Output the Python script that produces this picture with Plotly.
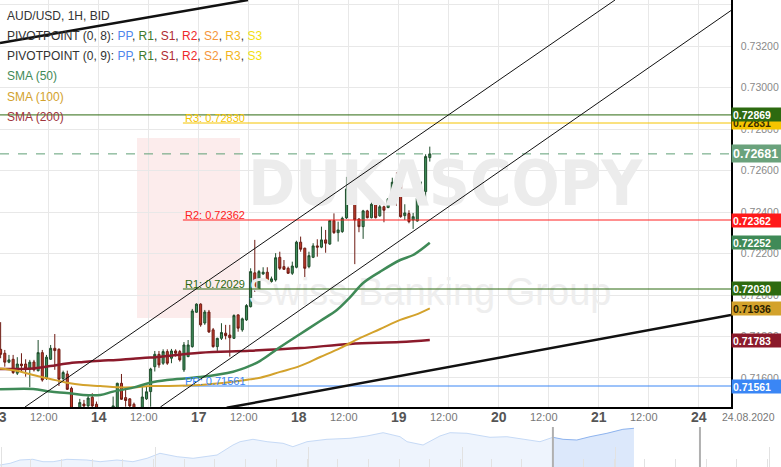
import numpy as np
import pandas as pd
import plotly.graph_objects as go

# ---------------- data ----------------
# hourly AUD/USD bars, 2020-08-13 00:00 .. 2020-08-19 07:00 (weekdays only)
opens = [0.71738, 0.71719, 0.71676, 0.71690, 0.71623, 0.71667, 0.71667, 0.71642, 0.71677, 0.71635,
         0.71722, 0.71598, 0.71690, 0.71743, 0.71738, 0.71597, 0.71619, 0.71550, 0.71446, 0.71450,
         0.71474, 0.71465, 0.71507, 0.71473, 0.71446, 0.71407, 0.71422, 0.71436, 0.71446, 0.71574,
         0.71505, 0.71499, 0.71473, 0.71446, 0.71441, 0.71499, 0.71534, 0.71654, 0.71714, 0.71671,
         0.71727, 0.71695, 0.71730, 0.71727, 0.71639, 0.71703, 0.71751, 0.71917, 0.71956, 0.71865,
         0.71918, 0.71832, 0.71751, 0.71791, 0.71816, 0.71807, 0.71791, 0.71904, 0.71832, 0.71880,
         0.71944, 0.72107, 0.72028, 0.72102, 0.72110, 0.72065, 0.72073, 0.72182, 0.72137, 0.72129,
         0.72105, 0.72134, 0.72255, 0.72226, 0.72137, 0.72182, 0.72237, 0.72231, 0.72266, 0.72246,
         0.72359, 0.72301, 0.72306, 0.72372, 0.72507, 0.72563, 0.72367, 0.72330, 0.72406, 0.72373,
         0.72438, 0.72382, 0.72426, 0.72422, 0.72459, 0.72544, 0.72544, 0.72383, 0.72393, 0.72362,
         0.72357, 0.72459, 0.72499, 0.72663]
highs = [0.71869, 0.71735, 0.71711, 0.71711, 0.71700, 0.71719, 0.71690, 0.71687, 0.71687, 0.71783,
         0.71735, 0.71711, 0.71759, 0.71812, 0.71743, 0.71635, 0.71635, 0.71558, 0.71450, 0.71499,
         0.71494, 0.71513, 0.71526, 0.71486, 0.71452, 0.71436, 0.71450, 0.71510, 0.71577, 0.71619,
         0.71555, 0.71502, 0.71481, 0.71452, 0.71566, 0.71561, 0.71649, 0.71730, 0.71730, 0.71738,
         0.71738, 0.71740, 0.71738, 0.71735, 0.71773, 0.71783, 0.71933, 0.71960, 0.71960, 0.71928,
         0.71928, 0.71841, 0.71794, 0.71864, 0.71856, 0.71856, 0.71907, 0.71907, 0.71891, 0.71956,
         0.72129, 0.72266, 0.72121, 0.72134, 0.72134, 0.72089, 0.72202, 0.72209, 0.72169, 0.72137,
         0.72161, 0.72262, 0.72282, 0.72228, 0.72209, 0.72250, 0.72269, 0.72330, 0.72314, 0.72362,
         0.72394, 0.72354, 0.72378, 0.72570, 0.72644, 0.72571, 0.72370, 0.72411, 0.72411, 0.72459,
         0.72443, 0.72443, 0.72431, 0.72467, 0.72566, 0.72592, 0.72592, 0.72438, 0.72409, 0.72396,
         0.72475, 0.72547, 0.72679, 0.72716]
lows = [0.71695, 0.71654, 0.71671, 0.71619, 0.71614, 0.71631, 0.71606, 0.71555, 0.71631, 0.71631,
        0.71582, 0.71590, 0.71687, 0.71639, 0.71561, 0.71590, 0.71542, 0.71431, 0.71417, 0.71436,
        0.71453, 0.71450, 0.71446, 0.71426, 0.71398, 0.71388, 0.71407, 0.71426, 0.71441, 0.71494,
        0.71461, 0.71453, 0.71436, 0.71422, 0.71431, 0.71494, 0.71461, 0.71631, 0.71649, 0.71663,
        0.71663, 0.71671, 0.71703, 0.71679, 0.71629, 0.71700, 0.71746, 0.71914, 0.71847, 0.71856,
        0.71817, 0.71746, 0.71730, 0.71783, 0.71786, 0.71703, 0.71788, 0.71823, 0.71823, 0.71875,
        0.71940, 0.72015, 0.72025, 0.72097, 0.72065, 0.72060, 0.72065, 0.72121, 0.72121, 0.72102,
        0.72097, 0.72129, 0.72209, 0.72086, 0.72129, 0.72178, 0.72185, 0.72226, 0.72204, 0.72242,
        0.72295, 0.72258, 0.72300, 0.72367, 0.72499, 0.72149, 0.72303, 0.72271, 0.72370, 0.72370,
        0.72370, 0.72378, 0.72351, 0.72419, 0.72454, 0.72431, 0.72373, 0.72362, 0.72346, 0.72319,
        0.72354, 0.72454, 0.72451, 0.72644]
closes = [0.71714, 0.71676, 0.71687, 0.71626, 0.71667, 0.71659, 0.71647, 0.71676, 0.71639, 0.71722,
          0.71590, 0.71700, 0.71743, 0.71732, 0.71594, 0.71626, 0.71545, 0.71446, 0.71426, 0.71481,
          0.71465, 0.71503, 0.71465, 0.71446, 0.71407, 0.71422, 0.71436, 0.71465, 0.71574, 0.71497,
          0.71491, 0.71465, 0.71446, 0.71441, 0.71508, 0.71533, 0.71643, 0.71714, 0.71663, 0.71727,
          0.71671, 0.71730, 0.71719, 0.71687, 0.71759, 0.71759, 0.71923, 0.71956, 0.71856, 0.71918,
          0.71822, 0.71751, 0.71791, 0.71819, 0.71804, 0.71794, 0.71901, 0.71840, 0.71885, 0.71949,
          0.72113, 0.72034, 0.72113, 0.72110, 0.72068, 0.72078, 0.72180, 0.72129, 0.72124, 0.72105,
          0.72140, 0.72255, 0.72221, 0.72129, 0.72190, 0.72237, 0.72231, 0.72266, 0.72250, 0.72359,
          0.72301, 0.72314, 0.72370, 0.72512, 0.72552, 0.72362, 0.72330, 0.72406, 0.72373, 0.72438,
          0.72373, 0.72426, 0.72409, 0.72464, 0.72544, 0.72531, 0.72378, 0.72396, 0.72354, 0.72378,
          0.72467, 0.72502, 0.72668, 0.72681]

# moving averages (trading hours since 13 Aug 00:00, value)
sma50_t = [0.35, 8.3, 12.4, 16.4, 20.3, 24.4, 27.5, 32.3, 36.4, 40.4, 48.4, 56.3, 60.3, 62.8, 67.6,
           72.4, 77.2, 81.2, 84.4, 87.5, 91.6, 96.4, 99.5, 103.5]
sma50_v = [0.71545, 0.71547, 0.71534, 0.71527, 0.71518, 0.71518, 0.71534, 0.71553, 0.71577, 0.71590,
           0.71604, 0.71630, 0.71658, 0.71682, 0.71749, 0.71812, 0.71875, 0.71928, 0.71990, 0.72058,
           0.72113, 0.72169, 0.72193, 0.72252]
sma100_t = [0.35, 4.4, 8.3, 12.4, 16.4, 20.3, 24.4, 28.4, 32.3, 36.4, 40.4, 48.4, 56.3, 60.3, 62.8,
            67.6, 72.4, 77.2, 82.0, 86.8, 91.6, 96.4, 100.0, 103.5]
sma100_v = [0.71646, 0.71635, 0.71614, 0.71595, 0.71577, 0.71566, 0.71561, 0.71555, 0.71555, 0.71561,
            0.71561, 0.71566, 0.71582, 0.71593, 0.71601, 0.71629, 0.71658, 0.71701, 0.71744, 0.71793,
            0.71836, 0.71880, 0.71904, 0.71936]
sma200_t = [0.35, 8.3, 12.4, 16.4, 20.3, 24.4, 28.4, 32.3, 36.4, 48.4, 60.3, 72.4, 84.4, 96.4, 103.5]
sma200_v = [0.71643, 0.71646, 0.71657, 0.71670, 0.71677, 0.71683, 0.71687, 0.71693, 0.71698, 0.71722,
            0.71731, 0.71744, 0.71764, 0.71773, 0.71783]

# pivot levels
pivot_start = 44.25
pp, r1, r2, r3 = 0.71561, 0.72029, 0.72362, 0.72830
level_green = 0.72869
last_price = 0.72681

# hand-drawn trend lines (trading hours, price)
trend_upper_t, trend_upper_v = [6.35, 147.95], [0.714597, 0.734235]
trend_lower_t, trend_lower_v = [38.85, 175.79], [0.714597, 0.733728]
trend_thick_lo_t, trend_thick_lo_v = [54.76, 175.79], [0.714558, 0.719036]
trend_thick_hi_t, trend_thick_hi_v = [0.35, 59.87], [0.732160, 0.734235]

# right-hand value tags
tag_vals = ["0.72831", "0.72869", "0.72681", "0.72362", "0.72252", "0.72030", "0.71936", "0.71783", "0.71561"]
tag_pos = [0.72831, 0.72869, 0.72681, 0.72362, 0.72252, 0.72030, 0.71936, 0.71783, 0.71561]
tag_bg = ["#f5c400", "#2d6a10", "#6aa27c", "#ff1a1a", "#3f8a57", "#2d6a10", "#d3a22c", "#8b1a2b", "#3a86f5"]
tag_fg = ["#3a3000", "white", "white", "white", "white", "white", "#2a2000", "white", "white"]

# navigator series (trading days, relative level)
nav_t = [0, 0.33, 0.65, 1.07, 1.40, 1.73, 2.18, 2.83, 3.26, 3.81, 4.33, 4.79, 5.21, 5.77, 6.29, 7.07,
         7.59, 7.82, 8.24, 8.70, 9.22, 9.54, 10.0, 10.65, 11.40, 11.95, 12.48, 13.03, 13.26, 13.78,
         14.33, 14.66, 15.21, 15.54, 15.96, 16.51, 17.26, 17.59, 18.01, 18.34, 18.79, 19.22, 19.77,
         20.29, 20.65]
nav_v = [2, 3.7, 7, 7.7, 5.3, 5.3, 7.7, 7, 5.3, 7, 5.3, 8.7, 13.7, 10.3, 8.7, 12, 22, 25.3, 27.7,
         25.3, 23.7, 20.3, 25.3, 27.7, 28.7, 31, 34.3, 30.3, 25.3, 22, 31, 34.3, 33.7, 32, 29.7, 30.3,
         27, 25.3, 29.7, 27.7, 27, 30.3, 33.7, 37.7, 38.7]
nav_sel = (18.01, 22.8)

# ---------------- helpers ----------------
T0 = np.datetime64("2020-08-13")


def th(ts):
    ts = pd.Timestamp(ts)
    d = int(np.busday_count(T0, np.datetime64(ts.date())))
    return d * 24 + ts.hour + ts.minute / 60.0


times = pd.date_range("2020-08-13 00:00", "2020-08-19 07:00", freq="h")
times = times[times.dayofweek < 5]
xc = [th(t) + 0.5 for t in times]

W, H = 781, 467
PR, PB, NT = 731, 407, 427
XR = [0.35, 175.79]
YR = [0.714597, 0.734235]
FONT = "Liberation Sans, Arial"


def xpaper(h):
    return (h - XR[0]) / (XR[1] - XR[0]) * PR / W


fig = go.Figure()

# watermark (drawn first, below everything)
fig.add_shape(type="rect", xref="paper", yref="paper", x0=137 / W, x1=240 / W,
              y0=1 - 318 / H, y1=1 - 138 / H, fillcolor="#fcecec", line_width=0, layer="below")
fig.add_trace(go.Scatter(x=[107.2], y=[0.7251], mode="text", text=["DUKASCOPY"],
                         textfont=dict(family="DejaVu Sans Condensed, DejaVu Sans", size=63,
                                       color="#ececec", weight="bold"),
                         hoverinfo="skip", showlegend=False))
fig.add_trace(go.Scatter(x=[103.5], y=[0.7200], mode="text", text=["Swiss Banking Group"],
                         textfont=dict(family=FONT, size=38, color="#eeeeee"),
                         hoverinfo="skip", showlegend=False))

# full-width levels
fig.add_trace(go.Scatter(x=XR, y=[level_green] * 2, mode="lines",
                         line=dict(color="#2d6a10", width=1), hoverinfo="skip", showlegend=False))
fig.add_trace(go.Scatter(x=XR, y=[last_price] * 2, mode="lines",
                         line=dict(color="#5f9f75", width=1, dash="dash"), hoverinfo="skip", showlegend=False))

# pivot levels
for v, col in [(r3, "#f5c400"), (r2, "#ff2020"), (r1, "#2d6a10"), (pp, "#3a86f5")]:
    fig.add_trace(go.Scatter(x=[pivot_start, XR[1]], y=[v, v], mode="lines",
                             line=dict(color=col, width=1), hoverinfo="skip", showlegend=False))

# SMAs
fig.add_trace(go.Scatter(x=sma200_t, y=sma200_v, mode="lines", line=dict(color="#8b1a2b", width=2.5, shape="spline"),
                         hoverinfo="skip", showlegend=False))
fig.add_trace(go.Scatter(x=sma100_t, y=sma100_v, mode="lines", line=dict(color="#d3a22c", width=2, shape="spline"),
                         hoverinfo="skip", showlegend=False))
fig.add_trace(go.Scatter(x=sma50_t, y=sma50_v, mode="lines", line=dict(color="#3f8a57", width=2.5, shape="spline"),
                         hoverinfo="skip", showlegend=False))

# candles
fig.add_trace(go.Candlestick(x=xc, open=opens, high=highs, low=lows, close=closes,
                             increasing=dict(line=dict(color="#1e4d2b", width=1), fillcolor="#3f8f5c"),
                             decreasing=dict(line=dict(color="#6d1a12", width=1), fillcolor="#c43c2c"),
                             whiskerwidth=0, hoverinfo="skip", showlegend=False))

# trend lines
for tx, ty, w in [(trend_upper_t, trend_upper_v, 1), (trend_lower_t, trend_lower_v, 1),
                  (trend_thick_lo_t, trend_thick_lo_v, 2.5), (trend_thick_hi_t, trend_thick_hi_v, 2.5)]:
    fig.add_trace(go.Scatter(x=tx, y=ty, mode="lines", line=dict(color="#111111", width=w),
                             hoverinfo="skip", showlegend=False))

# navigator
split = next(i for i, t in enumerate(nav_t) if t >= nav_sel[0])
fig.add_trace(go.Scatter(x=nav_t[:split + 1], y=nav_v[:split + 1], mode="lines", fill="tozeroy",
                         fillcolor="#eef4fd", line=dict(color="#c6daf6", width=1),
                         xaxis="x2", yaxis="y2", hoverinfo="skip", showlegend=False))
fig.add_trace(go.Scatter(x=nav_t[split:], y=nav_v[split:], mode="lines", fill="tozeroy",
                         fillcolor="#dce8fb", line=dict(color="#8db3ee", width=1),
                         xaxis="x2", yaxis="y2", hoverinfo="skip", showlegend=False))

ann = []
# legend block
piv = ("<span style='color:#4f86ec'>PP</span>, <span style='color:#3d7a2a'>R1</span>, "
       "<span style='color:#b02a30'>S1</span>, <span style='color:#ee2a2a'>R2</span>, "
       "<span style='color:#f5953a'>S2</span>, <span style='color:#f2b51c'>R3</span>, "
       "<span style='color:#f2e010'>S3</span>")
legend_lines = [
    ("AUD/USD, 1H, BID", "#333333"),
    ("PIVOTPOINT (0, 8): " + piv, "#333333"),
    ("PIVOTPOINT (0, 9): " + piv, "#333333"),
    ("SMA (50)", "#3f8a57"),
    ("SMA (100)", "#d3a22c"),
    ("SMA (200)", "#a0353c"),
]
for i, (txt, col) in enumerate(legend_lines):
    ann.append(dict(xref="paper", yref="paper", x=5 / W, y=1 - (15.7 + 20.2 * i) / H, xanchor="left",
                    yanchor="middle", text=txt, showarrow=False, font=dict(size=12, color=col, family=FONT)))

# pivot captions
for lab, v, col in [("R3", r3, "#f5c400"), ("R2", r2, "#ff2020"), ("R1", r1, "#2d6a10"), ("PP", pp, "#3a86f5")]:
    ann.append(dict(xref="x", yref="y", x=pivot_start, y=v, xanchor="left", yanchor="bottom", yshift=-3,
                    text=f"{lab}: {v:.5f}", showarrow=False, font=dict(size=11, color=col, family=FONT)))

# value tags on the right
for txt, v, bg, fg in zip(tag_vals, tag_pos, tag_bg, tag_fg):
    big = txt == f"{last_price:.5f}"
    ann.append(dict(xref="paper", yref="y", x=PR / W, y=v, xanchor="left", yanchor="middle",
                    text=f"<b>{txt}</b>", showarrow=False, bgcolor=bg, align="left",
                    width=47, height=15 if big else 11, borderpad=1,
                    font=dict(size=12.5 if big else 10.5, color=fg, family=FONT)))

# x labels
day_dates = pd.to_datetime(["2020-08-13", "2020-08-14", "2020-08-17", "2020-08-18", "2020-08-19",
                            "2020-08-20", "2020-08-21", "2020-08-24"])
ylab = 1 - 417 / H
for d in day_dates:
    p = th(d)
    ann.append(dict(xref="paper", yref="paper", x=xpaper(p), y=ylab, xanchor="center", yanchor="middle",
                    text=f"<b>{d.day}</b>", showarrow=False,
                    font=dict(size=14, color="#555555", family=FONT)))
    if d != day_dates[-1]:
        ann.append(dict(xref="paper", yref="paper", x=xpaper(p + 12), y=ylab, xanchor="center",
                        yanchor="middle", xshift=-5, text="12:00", showarrow=False,
                        font=dict(size=11, color="#777777", family=FONT)))
ann.append(dict(xref="paper", yref="paper", x=777 / W, y=ylab, yanchor="middle", xanchor="right",
                text=day_dates[-1].strftime("%d.%m.%Y"), showarrow=False,
                font=dict(size=10.5, color="#777777", family=FONT)))

shapes = [
    dict(type="line", xref="paper", yref="paper", x0=0, x1=1, y0=1 - NT / H, y1=1 - NT / H,
         line=dict(color="#dddddd", width=1)),
]
for s in nav_sel:
    shapes.append(dict(type="line", xref="x2", yref="y2", x0=s, x1=s, y0=0, y1=40,
                       line=dict(color="#b0b0b0", width=2)))

fig.update_layout(
    width=W, height=H, margin=dict(l=0, r=0, t=0, b=0, autoexpand=False),
    paper_bgcolor="white", plot_bgcolor="white", showlegend=False,
    xaxis=dict(domain=[0, PR / W], range=XR, anchor="y", tickmode="array",
               tickvals=list(range(0, 180, 12)), showticklabels=False, ticks="",
               showgrid=True, gridcolor="#e8e8e8", gridwidth=1, zeroline=False,
               showline=True, linecolor="#000000", linewidth=1.5, rangeslider=dict(visible=False)),
    yaxis=dict(domain=[1 - PB / H, 1], range=YR, side="right", anchor="x", dtick=0.002, tick0=0.714,
               tickformat=".5f", showgrid=True, gridcolor="#e8e8e8", zeroline=False,
               showline=True, linecolor="#000000", linewidth=1.5, ticks="", ticklabelstandoff=6,
               tickfont=dict(size=10.5, color="#8a8a8a", family=FONT)),
    xaxis2=dict(domain=[0, 1], range=[0, W / 30.7], anchor="y2", showgrid=False, zeroline=False,
                showticklabels=False, ticks="inside", ticklen=20, tickcolor="#e2e2e2", dtick=5, tick0=0.055,
                minor=dict(ticks="inside", ticklen=8, dtick=1, tickcolor="#e2e2e2"), showline=False),
    yaxis2=dict(domain=[0, (H - NT) / H], range=[0, 40], showgrid=False, zeroline=False,
                showticklabels=False, fixedrange=True),
    annotations=ann, shapes=shapes,
)

fig.write_html("out.html", config={"displayModeBar": False},
               post_script="document.body.style.margin='0px';document.body.style.overflow='hidden';")
